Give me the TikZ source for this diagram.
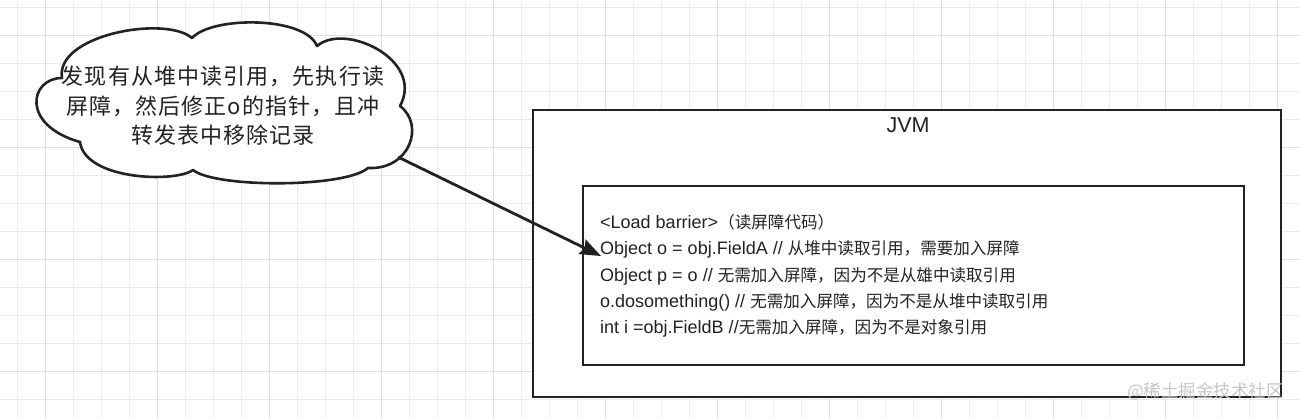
\documentclass[tikz,border=0pt]{standalone}
\usepackage{fontspec}
\setmainfont{Liberation Sans}
\newfontfamily\cjk{Noto Sans CJK SC}[Scale=0.92]
\newfontfamily\cjkcloud{Noto Sans CJK SC}[LetterSpace=5]
\usetikzlibrary{arrows.meta}

\definecolor{ink}{HTML}{222222}
\definecolor{gridminor}{HTML}{EBEBEB}
\definecolor{gridmajor}{HTML}{DEDEDE}
\newcommand{\zh}[1]{{\cjk #1}}

\begin{document}
\begin{tikzpicture}[x=1pt,y=-1pt,
  box/.style={draw=ink,fill=white,line width=2.6pt,inner sep=0pt},
  gridline/.style={gridminor,line width=1pt},
  gridbold/.style={gridmajor,line width=1pt},
  label/.style={text=ink,font=\fontsize{18}{22}\selectfont}]
\useasboundingbox (0,0) rectangle (1300,418);
\fill[white] (0,0) rectangle (1300,418);

% background grid
\foreach \gx in {17,45,...,1300} \draw[gridline] (\gx,0) -- (\gx,418);
\foreach \gy in {7,35,...,418} \draw[gridline] (0,\gy) -- (1300,\gy);
\foreach \gx in {45,157,...,1300} \draw[gridbold] (\gx,0) -- (\gx,418);
\foreach \gy in {35,147,...,418} \draw[gridbold] (0,\gy) -- (1300,\gy);

% JVM
\node[box,minimum width=748pt,minimum height=287pt] (jvm) at (907,253.5) {};
\node[label,font=\fontsize{21.5}{24}\selectfont] (jvmlabel) at (908,125) {JVM};
\node[box,minimum width=661pt,minimum height=179pt] (barrier) at (913.5,275.5) {};
\node[label,anchor=west,align=left,inner sep=0pt,
  font=\fontsize{18}{26.3}\selectfont] (code) at (600,276) {%
  <Load barrier>\zh{（读屏障代码）}\\
  Object o = obj.FieldA // \zh{从堆中读取引用，需要加入屏障}\\
  Object p = o // \zh{无需加入屏障，因为不是从雄中读取引用}\\
  o.dosomething() // \zh{无需加入屏障，因为不是从堆中读取引用}\\
  int i =obj.FieldB //\zh{无需加入屏障，因为不是对象引用}};

% note cloud
\draw[ink,fill=white,line width=2.6pt,line join=round]
  (62,78) .. controls (55,35) and (165,15) .. (192,38)
  .. controls (212,16) and (305,16) .. (317,46)
  .. controls (345,22) and (425,60) .. (400,106)
  .. controls (425,125) and (410,170) .. (368,168)
  .. controls (345,188) and (215,188) .. (193,170)
  .. controls (175,183) and (85,180) .. (80,142)
  .. controls (20,125) and (30,78) .. cycle;
\node[align=center,text=ink,font={\fontsize{22}{29.5}\selectfont\cjkcloud}] (notetext) at (223,106)
  {发现有从堆中读引用，先执行读\\屏障，然后修正o的指针，且冲\\转发表中移除记录};

\coordinate (tail) at (398,157);
\coordinate (hit) at (601,256);
\draw[ink,line width=2.8pt,-{Stealth[length=21pt,width=16pt,inset=3pt]}] (tail) -- (hit);

\node[text=gray!45,anchor=east,font={\fontsize{19}{19}\selectfont\cjk}] (mark) at (1287,392) {@稀土掘金技术社区};
\end{tikzpicture}
\end{document}
